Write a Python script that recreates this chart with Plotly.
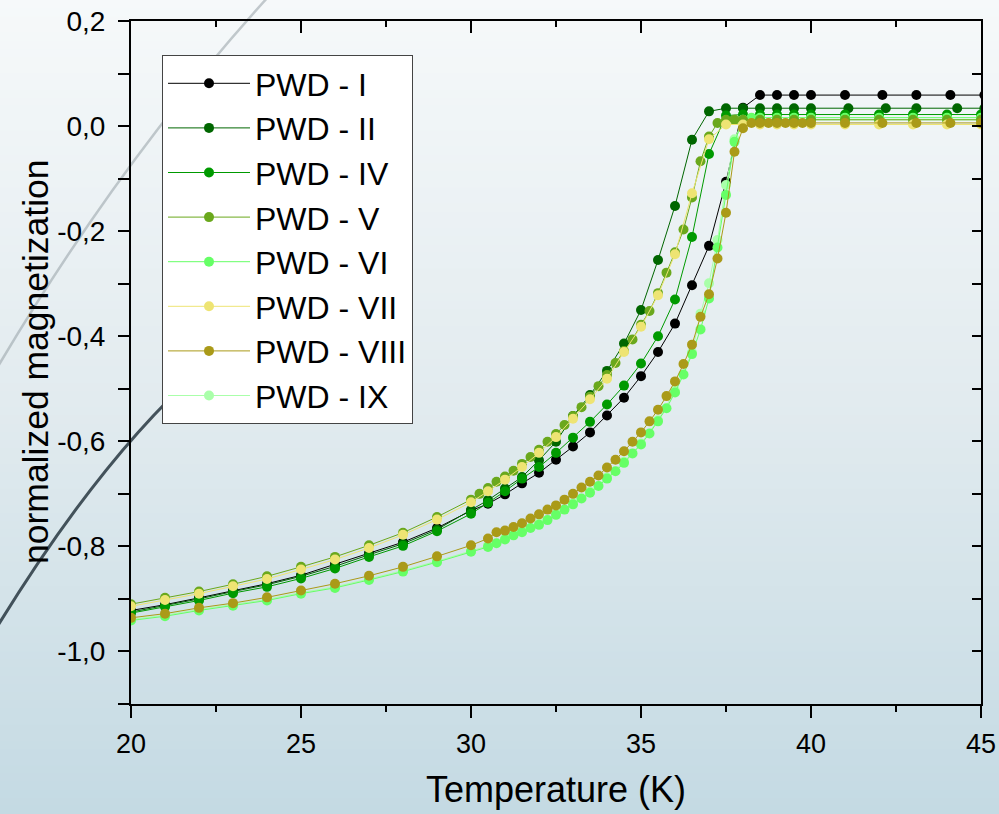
import plotly.graph_objects as go

# ---------------- data ----------------
T_I = [20,21,22,23,24,25,26,27,28,29,30,30.5,31,31.5,32,32.5,33,33.5,34,34.5,35,35.5,36,36.5,37,37.5,38,38.5,39,39.5,40,41,42.1,43.1,44.1,45.1]
M_I = [-0.922,-0.911,-0.898,-0.884,-0.871,-0.855,-0.834,-0.813,-0.792,-0.765,-0.732,-0.719,-0.701,-0.680,-0.660,-0.635,-0.610,-0.583,-0.551,-0.517,-0.476,-0.430,-0.376,-0.303,-0.228,-0.106,0.035,0.059,0.059,0.059,0.059,0.059,0.059,0.059,0.059,0.059]

T_II = [20,21,22,23,24,25,26,27,28,29,30,30.5,31,31.5,32,32.5,33,33.5,34,34.5,35,35.5,36,36.5,37,37.5,38,38.5,39,39.5,40,41.1,42.2,43.1,44.3,45.1]
M_II = [-0.925,-0.913,-0.900,-0.886,-0.873,-0.857,-0.838,-0.816,-0.795,-0.768,-0.731,-0.712,-0.690,-0.668,-0.636,-0.601,-0.552,-0.512,-0.466,-0.414,-0.350,-0.255,-0.152,-0.026,0.028,0.034,0.034,0.034,0.034,0.034,0.034,0.034,0.034,0.034,0.034,0.034]

T_IV = [20,21,22,23,24,25,26,27,28,29,30,30.5,31,31.5,32,32.5,33,33.5,34,34.5,35,35.5,36,36.5,37,37.5,38,38.5,39,39.5,40,41,42,43,44,45]
M_IV = [-0.927,-0.915,-0.903,-0.889,-0.877,-0.861,-0.842,-0.820,-0.799,-0.771,-0.738,-0.717,-0.695,-0.671,-0.649,-0.622,-0.593,-0.563,-0.530,-0.494,-0.452,-0.400,-0.330,-0.211,-0.053,0.020,0.022,0.022,0.022,0.022,0.022,0.022,0.022,0.022,0.022,0.022]

T_V = [20,21,22,23,24,25,26,27,28,29,30,30.25,30.5,30.75,31,31.25,31.5,31.75,32,32.25,32.5,32.75,33,33.25,33.5,33.75,34,34.25,34.5,34.75,35,35.25,35.5,35.75,36,36.25,36.5,36.75,37,37.25,37.5,37.75,38,38.5,39,39.5,40,41,42,43,44,45]
M_V = [-0.910,-0.898,-0.886,-0.872,-0.857,-0.839,-0.820,-0.798,-0.774,-0.744,-0.711,-0.700,-0.689,-0.677,-0.667,-0.656,-0.643,-0.630,-0.616,-0.601,-0.586,-0.569,-0.552,-0.535,-0.515,-0.495,-0.474,-0.451,-0.428,-0.406,-0.378,-0.352,-0.318,-0.279,-0.240,-0.197,-0.136,-0.067,-0.020,0.006,0.012,0.012,0.012,0.012,0.012,0.012,0.012,0.012,0.012,0.012,0.012,0.012]

T_VI = [20,21,22,23,24,25,26,27,28,29,30,30.5,30.75,31,31.25,31.5,31.75,32,32.25,32.5,32.75,33,33.25,33.5,33.75,34,34.25,34.5,34.75,35,35.25,35.5,35.75,36,36.25,36.5,36.75,37,37.25,37.5,37.75,38,38.25,38.5,39,39.5,40,41,42,43,44,45]
M_VI = [-0.941,-0.933,-0.922,-0.913,-0.903,-0.890,-0.879,-0.864,-0.848,-0.830,-0.810,-0.801,-0.794,-0.787,-0.779,-0.773,-0.765,-0.759,-0.750,-0.740,-0.730,-0.720,-0.709,-0.698,-0.685,-0.671,-0.657,-0.641,-0.623,-0.606,-0.585,-0.562,-0.537,-0.507,-0.473,-0.434,-0.387,-0.328,-0.231,-0.131,-0.030,0.010,0.016,0.016,0.016,0.016,0.016,0.016,0.016,0.016,0.016,0.016]

T_VII = [20,21,22,23,24,25,26,27,28,29,30,30.5,31,31.5,32,32.5,33,33.5,34,34.5,35,35.5,36,36.5,37,37.5,38,38.5,39,39.5,40,41,42,43,44,45]
M_VII = [-0.914,-0.902,-0.890,-0.876,-0.862,-0.844,-0.825,-0.803,-0.778,-0.749,-0.716,-0.695,-0.673,-0.649,-0.622,-0.592,-0.557,-0.520,-0.481,-0.430,-0.382,-0.322,-0.244,-0.128,-0.025,0.003,0.003,0.003,0.003,0.003,0.003,0.003,0.003,0.003,0.003,0.003]

T_VIII = [20,21,22,23,24,25,26,27,28,29,30,30.5,30.75,31,31.25,31.5,31.75,32,32.25,32.5,32.75,33,33.25,33.5,33.75,34,34.25,34.5,34.75,35,35.25,35.5,35.75,36,36.25,36.5,36.75,37,37.25,37.5,37.75,38,38.25,38.5,38.75,39,39.25,39.5,39.75,40,41,42.1,43.1,44.1,45]
M_VIII = [-0.936,-0.928,-0.917,-0.908,-0.897,-0.884,-0.871,-0.856,-0.839,-0.819,-0.798,-0.785,-0.773,-0.770,-0.763,-0.756,-0.747,-0.739,-0.730,-0.722,-0.711,-0.700,-0.688,-0.677,-0.665,-0.650,-0.635,-0.619,-0.601,-0.583,-0.562,-0.540,-0.514,-0.486,-0.453,-0.416,-0.363,-0.320,-0.252,-0.165,-0.049,-0.004,0.006,0.006,0.006,0.006,0.006,0.006,0.006,0.006,0.006,0.006,0.006,0.006,0.006]

T_IX = [20,21,22,23,24,25,26,27,28,29,30,30.5,31,31.5,32,32.5,33,33.5,34,34.5,35,35.5,36,36.5,36.75,37,37.25,37.5,37.75,38,38.5,39,39.5,40,41,42,43,44,45]
M_IX = [-0.939,-0.931,-0.920,-0.911,-0.901,-0.888,-0.877,-0.862,-0.846,-0.828,-0.809,-0.799,-0.785,-0.771,-0.757,-0.738,-0.718,-0.696,-0.669,-0.639,-0.604,-0.560,-0.504,-0.431,-0.357,-0.299,-0.217,-0.112,-0.025,0.012,0.012,0.012,0.012,0.012,0.012,0.012,0.012,0.012,0.012]

names = ["PWD - I","PWD - II","PWD - IV","PWD - V","PWD - VI","PWD - VII","PWD - VIII","PWD - IX"]
xs = [T_I,T_II,T_IV,T_V,T_VI,T_VII,T_VIII,T_IX]
ys = [M_I,M_II,M_IV,M_V,M_VI,M_VII,M_VIII,M_IX]
colors = ["#000000","#006600","#009a00","#6aa81c","#66ff66","#eee473","#aa9a18","#aaffaa"]
draw_order = [0,1,2,7,4,3,5,6]

y_tickvals = [round(-1.1 + 0.1*i, 1) for i in range(14)]
x_tickvals = [20, 25, 30, 35, 40, 45]
x_minor = [22.5, 27.5, 32.5, 37.5, 42.5]
x_title = "Temperature (K)"
y_title = "normalized magnetization"

# ---------------- layout constants ----------------
W, H = 999, 814
L, R, Tm, B = 131, 18, 21, 110
pw, ph = W - L - R, H - Tm - B

def px2paper(px, py):
    return (px - L) / pw, (H - B - py) / ph

FONT = "Liberation Sans, Arial, sans-serif"

fig = go.Figure()

for i in draw_order:
    fig.add_trace(go.Scatter(
        x=xs[i], y=ys[i], name=names[i], mode="lines+markers",
        line=dict(color=colors[i], width=1),
        marker=dict(color=colors[i], size=10, line=dict(width=0)),
        legendrank=i + 1, legendgroup=names[i],
    ))

# background gradient
shapes = []
stops = [(0, (246, 249, 250)), (400, (226, 235, 239)), (814, (196, 218, 227))]
def col_at(py):
    for (a, ca), (b, cb) in zip(stops[:-1], stops[1:]):
        if a <= py <= b:
            t = (py - a) / (b - a)
            return tuple(round(ca[k] + (cb[k] - ca[k]) * t) for k in range(3))
    return stops[-1][1]
N = 100
for k in range(N):
    p0 = H * k / N
    p1 = H * (k + 1) / N + 1
    c = col_at((p0 + p1) / 2)
    x0, y0 = px2paper(-2, p0)
    x1, y1 = px2paper(W + 2, p1)
    shapes.append(dict(type="rect", xref="paper", yref="paper", x0=x0, x1=x1, y0=y1, y1=y0,
                       fillcolor="rgb(%d,%d,%d)" % c, line=dict(width=0), layer="below"))

def curve(pts, color, width):
    (ax, ay) = px2paper(*pts[0])
    (bx, by) = px2paper(*pts[1])
    (cx, cy) = px2paper(*pts[2])
    d = "M %.4f,%.4f Q %.4f,%.4f %.4f,%.4f" % (ax, ay, bx, by, cx, cy)
    return dict(type="path", xref="paper", yref="paper", path=d,
                line=dict(color=color, width=width), layer="below")

shapes.append(curve([(-3, 368), (120, 160), (268, -3)], "rgba(150,160,165,0.55)", 2.5))
shapes.append(curve([(-3, 627), (100, 459), (200, 370)], "rgba(40,55,65,0.85)", 3))

axis_common = dict(showgrid=False, zeroline=False, showline=True, linecolor="black",
                   linewidth=2, tickcolor="black", tickwidth=2, automargin=False)

xt_x, xt_y = px2paper(556, 789)
yt_x, yt_y = px2paper(36, 362)

fig.update_layout(
    width=W, height=H,
    margin=dict(l=L, r=R, t=Tm, b=B, autoexpand=False),
    paper_bgcolor="rgb(222,232,237)",
    plot_bgcolor="rgba(0,0,0,0)",
    shapes=shapes,
    font=dict(family=FONT, color="black"),
    showlegend=True,
    legend=dict(x=(162 - L) / pw, y=(H - B - 55) / ph, xanchor="left", yanchor="top",
                bgcolor="white", bordercolor="#444", borderwidth=1,
                font=dict(size=32, family=FONT, color="black"),
                tracegroupgap=0, itemwidth=82),
    annotations=[
        dict(text=x_title, xref="paper", yref="paper", x=xt_x, y=xt_y, xanchor="center",
             yanchor="middle", showarrow=False, font=dict(size=36, family=FONT, color="black")),
        dict(text=y_title, xref="paper", yref="paper", x=yt_x, y=yt_y, xanchor="center",
             yanchor="middle", textangle=-90, showarrow=False,
             font=dict(size=35.5, family=FONT, color="black")),
    ],
    xaxis=dict(range=[20, 45], tickvals=x_tickvals, ticks="outside", ticklen=12,
               tickfont=dict(size=27), ticklabelstandoff=3,
               minor=dict(tickvals=x_minor, ticks="outside", ticklen=6, tickwidth=2, tickcolor="black"),
               **axis_common),
    yaxis=dict(range=[-1.1, 0.2], tickvals=y_tickvals,
               ticktext=["" if abs(round(v * 10)) % 2 == 1 else
                         ("%.1f" % v).replace(".", ",").replace("-0,0", "0,0") for v in y_tickvals],
               ticks="outside", ticklen=11, tickfont=dict(size=28), ticklabelstandoff=7,
               **axis_common),
    xaxis2=dict(range=[20, 45], overlaying="x", side="top", anchor="y", tickvals=x_tickvals,
                ticks="inside", ticklen=12, showticklabels=False,
                minor=dict(tickvals=x_minor, ticks="inside", ticklen=6, tickwidth=2, tickcolor="black"),
                **axis_common),
    yaxis2=dict(range=[-1.1, 0.2], overlaying="y", side="right", anchor="x", tickvals=y_tickvals,
                ticks="inside", ticklen=9, showticklabels=False, **axis_common),
)
fig.add_trace(go.Scatter(x=[], y=[], xaxis="x2", yaxis="y2", showlegend=False, hoverinfo="skip"))

fig.write_html("out.html", config={"displayModeBar": False},
               post_script="document.body.style.margin='0';document.body.style.padding='0';"
                           "document.body.style.background='rgb(222,232,237)';")
